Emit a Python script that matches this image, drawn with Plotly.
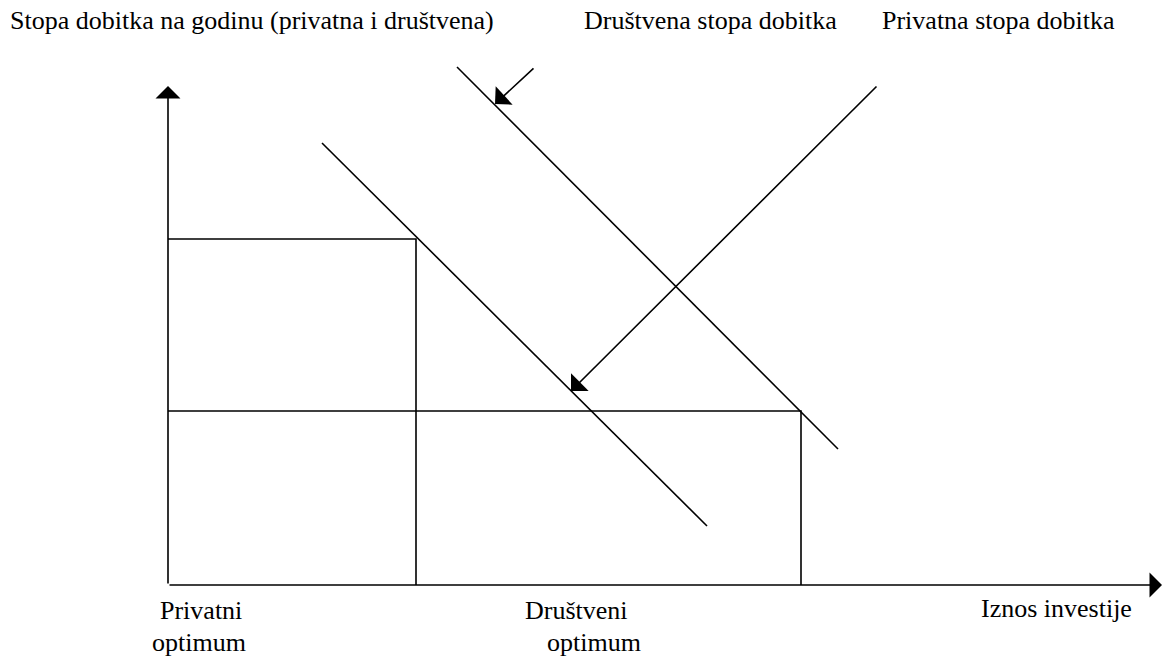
import plotly.graph_objects as go

# Coordinates in diagram units: x = amount invested, y = rate of return
# (origin where the two axes meet)
axis_x_end = 994
axis_y_end = 499

# Rate-of-return schedules (slope -1)
private_line_x = [154, 539]
private_line_y = [442, 59]
social_line_x = [289, 670]
social_line_y = [518, 136]

# Optimum points (investment amount, rate)
private_opt = (248, 346)
social_opt = (633, 174)

# Label arrows: (tail, head)
social_arrow = ((367, 518), (327, 481))
private_arrow = ((710, 500), (403, 194))

FONT = dict(family="Times New Roman, Liberation Serif, Times, DejaVu Serif, serif",
            size=26, color="black")
LINE = dict(color="black", width=1.6)

fig = go.Figure()

# Private and social rate-of-return lines
fig.add_trace(go.Scatter(x=private_line_x, y=private_line_y, mode="lines",
                         line=LINE, hoverinfo="skip", showlegend=False))
fig.add_trace(go.Scatter(x=social_line_x, y=social_line_y, mode="lines",
                         line=LINE, hoverinfo="skip", showlegend=False))

# Guide lines from the axes to each optimum
for qx, ry in (private_opt, social_opt):
    fig.add_trace(go.Scatter(x=[0, qx, qx], y=[ry, ry, 0], mode="lines",
                             line=LINE, hoverinfo="skip", showlegend=False))

ARROW = dict(xref="x", yref="y", axref="x", ayref="y", showarrow=True,
             arrowhead=1, arrowsize=2.6, arrowwidth=1.6, arrowcolor="black", text="")

# Axes with arrowheads
fig.add_annotation(x=0, y=axis_y_end, ax=0, ay=0, **ARROW)
fig.add_annotation(x=axis_x_end, y=0, ax=0, ay=0, **ARROW)

# Pointer arrows to the lines
for (tx, ty), (hx, hy) in (social_arrow, private_arrow):
    fig.add_annotation(x=hx, y=hy, ax=tx, ay=ty, **ARROW)

# Text labels
labels = [
    ("Stopa dobitka na godinu (privatna i društvena)", -160, 565, "left"),
    ("Društvena stopa dobitka", 414, 565, "left"),
    ("Privatna stopa dobitka", 712, 565, "left"),
    ("Privatni", 33, -25, "center"),
    ("optimum", 31, -57, "center"),
    ("Društveni", 408, -25, "center"),
    ("optimum", 426, -57, "center"),
    ("Iznos investije", 888, -23, "center"),
]
for txt, lx, ly, anc in labels:
    fig.add_annotation(x=lx, y=ly, xref="x", yref="y", text=txt, showarrow=False,
                       xanchor=anc, yanchor="middle", font=FONT)

fig.update_layout(
    width=1167, height=658,
    margin=dict(l=0, r=0, t=0, b=0),
    paper_bgcolor="white", plot_bgcolor="white",
    xaxis=dict(range=[-168, 999], visible=False, fixedrange=True),
    yaxis=dict(range=[-73, 585], visible=False, fixedrange=True),
)

fig.write_html("out.html")
